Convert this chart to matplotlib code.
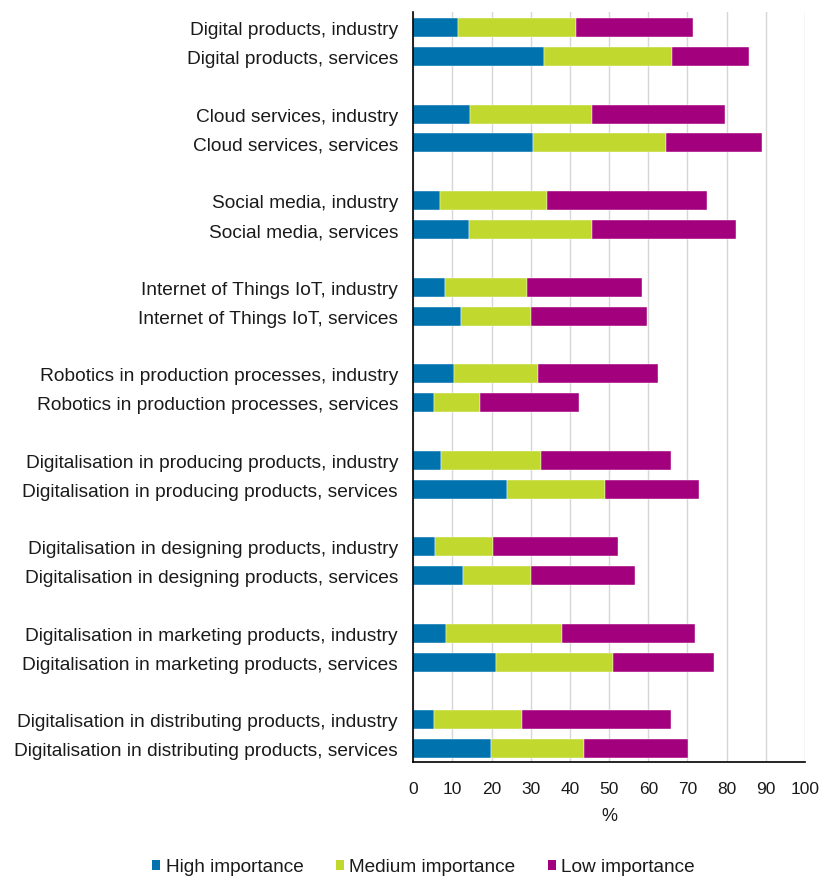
import numpy as np
import matplotlib.pyplot as plt
from matplotlib.patches import Patch

plt.rcParams['font.family'] = ['Liberation Sans', 'DejaVu Sans']

labels = [
    'Digital products, industry', 'Digital products, services',
    'Cloud services, industry', 'Cloud services, services',
    'Social media, industry', 'Social media, services',
    'Internet of Things IoT, industry', 'Internet of Things IoT, services',
    'Robotics in production processes, industry', 'Robotics in production processes, services',
    'Digitalisation in producing products, industry', 'Digitalisation in producing products, services',
    'Digitalisation in designing products, industry', 'Digitalisation in designing products, services',
    'Digitalisation in marketing products, industry', 'Digitalisation in marketing products, services',
    'Digitalisation in distributing products, industry', 'Digitalisation in distributing products, services',
]
high = [11.3, 33.4, 14.6, 30.6, 6.8, 14.1, 8.0, 12.1, 10.5, 5.2, 7.1, 24.0, 5.6, 12.6, 8.4, 21.1, 5.2, 19.9]
medium = [30.2, 32.7, 31.1, 33.9, 27.4, 31.6, 21.0, 18.0, 21.3, 11.8, 25.5, 24.9, 14.7, 17.5, 29.5, 29.9, 22.5, 23.8]
low = [30.0, 19.7, 33.9, 24.6, 40.9, 36.8, 29.3, 29.5, 30.7, 25.4, 33.1, 24.1, 31.9, 26.6, 33.9, 25.7, 38.0, 26.4]

series = ['High importance', 'Medium importance', 'Low importance']
colors = ['#0072AE', '#C1D82F', '#A3007E']

# two bars per group, one empty slot between groups
pos = np.array([(i // 2) * 3 + i % 2 for i in range(len(labels))])

fig = plt.figure(figsize=(8.21, 8.78), dpi=100)
ax = fig.add_axes([0.5034, 0.1313, 0.4771, 0.8542])

left = np.zeros(len(labels))
for vals, c, name in zip([high, medium, low], colors, series):
    vals = np.array(vals)
    ax.barh(pos, vals, left=left, height=0.66, color=c, label=name,
            edgecolor='white', linewidth=0.3)
    left += vals

ax.set_xlim(0, 100)
ax.set_ylim(25.45, -0.55)
ax.set_xticks(np.arange(0, 101, 10))
ax.set_yticks(pos)
ax.set_yticklabels(labels)
ax.tick_params(axis='y', length=0, pad=11, labelsize=13.8, labelcolor='#1a1a1a')
ax.tick_params(axis='x', length=0, pad=14, labelsize=12.5, labelcolor='#1a1a1a')
ax.set_xlabel('%', fontsize=13, labelpad=8, color='#1a1a1a')

ax.set_axisbelow(True)
ax.grid(axis='x', color='#d6d6d6', linewidth=1)
for s in ['top', 'right']:
    ax.spines[s].set_visible(False)
ax.spines['left'].set_linewidth(1.2)
ax.spines['bottom'].set_linewidth(1.2)

handles = [Patch(facecolor=c, linewidth=0, label=n) for c, n in zip(colors, series)]
fig.legend(handles=handles, loc='center', bbox_to_anchor=(0.5158, 0.0114),
           ncol=3, frameon=False, fontsize=13.7, handlelength=0.42,
           handleheight=0.42, handletextpad=0.3, columnspacing=1.7,
           labelcolor='#1a1a1a')

fig.savefig('out.png', dpi=100)
